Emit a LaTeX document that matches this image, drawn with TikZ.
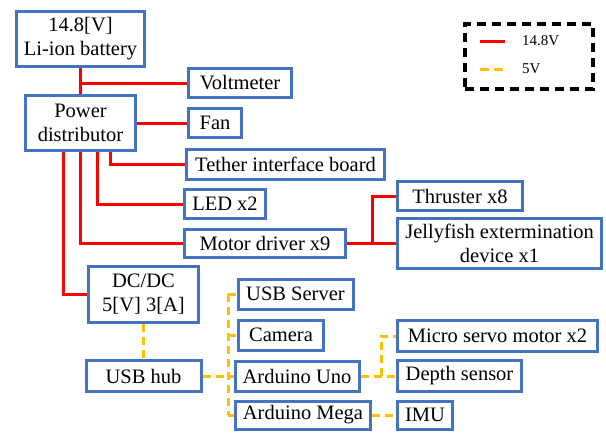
\documentclass[tikz,border=0pt]{standalone}
\usepackage{fontspec}
\setmainfont{Liberation Serif}
\definecolor{boxblue}{RGB}{68,114,196}
\definecolor{lineyellow}{RGB}{255,192,0}

\tikzstyle{block}=[draw=boxblue, line width=3pt, fill=white, align=center, inner sep=1pt, font=\fontsize{20.5}{24}\selectfont]
\tikzstyle{power}=[draw, line width=3pt, red, -]
\tikzstyle{usb}=[draw, line width=3pt, lineyellow, dash pattern=on 8pt off 5pt, -]
\tikzstyle{legend box}=[draw, line width=3.5pt, dash pattern=on 9pt off 6pt, minimum width=128pt, minimum height=65pt]
\tikzstyle{legend text}=[anchor=west, inner sep=0pt, font=\fontsize{15}{18}\selectfont]

\begin{document}
\begin{tikzpicture}[x=1pt, y=-1pt]
	\useasboundingbox (0,0) rectangle (606,432);
	% power side
	\node[block, minimum width=128pt, minimum height=55pt] (batt) at (80.5,39) {14.8[V]\\Li-ion battery};
	\node[block, minimum width=110pt, minimum height=55pt] (pd) at (80.5,123) {Power\\distributor};
	\node[block, minimum width=103pt, minimum height=29pt] (volt) at (240,83) {Voltmeter};
	\node[block, minimum width=53pt, minimum height=29pt] (fan) at (215,123) {Fan};
	\node[block, minimum width=198pt, minimum height=30pt] (tether) at (285.5,164.5) {Tether interface board};
	\node[block, minimum width=81pt, minimum height=29pt] (led) at (225,204) {LED x2};
	\node[block, minimum width=161pt, minimum height=28pt] (motor) at (265,243) {Motor driver x9};
	\node[block, minimum width=125pt, minimum height=29pt] (thr) at (460,196) {Thruster x8};
	\node[block, minimum width=204pt, minimum height=50pt] (jelly) at (499.5,243) {Jellyfish extermination\\device x1};
	\node[block, minimum width=110pt, minimum height=56pt] (dcdc) at (143.5,294) {DC/DC\\5[V] 3[A]};
	% 5V side
	\node[block, minimum width=115pt, minimum height=31pt] (hub) at (143.5,376) {USB hub};
	\node[block, minimum width=115pt, minimum height=30pt] (server) at (295.5,294) {USB Server};
	\node[block, minimum width=85pt, minimum height=30pt] (cam) at (281,335) {Camera};
	\node[block, minimum width=124pt, minimum height=30pt] (uno) at (297,376) {Arduino Uno};
	\node[block, minimum width=135pt, minimum height=28pt] (mega) at (303,415) {Arduino Mega};
	\node[block, minimum width=200pt, minimum height=31pt] (servo) at (497.5,336) {Micro servo motor x2};
	\node[block, minimum width=124pt, minimum height=31pt] (depth) at (459.5,376) {Depth sensor};
	\node[block, minimum width=55pt, minimum height=28pt] (imu) at (425,415) {IMU};

	\coordinate (vj) at (80.5,83);
	\coordinate (mj) at (372,243);
	\coordinate (bus) at (228,376);
	\coordinate (sj) at (381,376);

	% 14.8V lines
	\foreach \source/\dest in {batt/pd, pd/fan, motor/jelly, vj/volt}
		\path[power] (\source) -- (\dest);
	\path[power] ([xshift=29.5pt]pd.south) |- (tether);
	\path[power] ([xshift=16.5pt]pd.south) |- (led);
	\path[power] ([xshift=-0.5pt]pd.south) |- (motor);
	\path[power] ([xshift=-17.5pt]pd.south) |- (dcdc);
	\path[power] (mj) |- (thr);

	% 5V lines
	\foreach \source/\dest in {dcdc/hub, hub/uno, uno/depth, mega/imu}
		\path[usb] (\source) -- (\dest);
	\path[usb] (bus |- server) -- (bus |- mega);
	\foreach \dest in {server, cam, mega}
		\path[usb] (bus |- \dest) -- (\dest);
	\path[usb] (sj) |- (servo);

	% legend
	\node[legend box] (legend) at (529,56.5) {};
	\coordinate (r1) at (480,41);
	\coordinate (r2) at (505,41);
	\coordinate (y1) at (480,69);
	\coordinate (y2) at (505,69);
	\path[power] (r1) -- (r2);
	\path[usb, dash pattern=on 9pt off 5pt] (y1) -- (y2);
	\node[legend text] (hv) at (522,41) {14.8V};
	\node[legend text] (lv) at (522,69) {5V};
\end{tikzpicture}
\end{document}
